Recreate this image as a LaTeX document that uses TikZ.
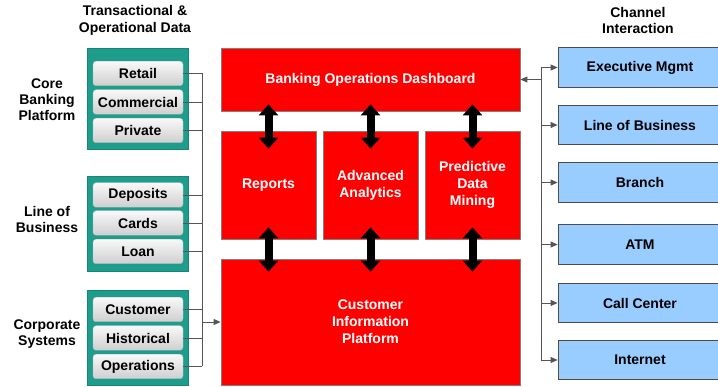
\documentclass[tikz,border=0pt]{standalone}
\usepackage{fontspec}
\setmainfont{Liberation Sans}
\usepackage{xcolor}
\usepackage{tikz}
\usetikzlibrary{calc,arrows.meta}
\definecolor{redbg}{HTML}{FF0000}
\definecolor{tealbg}{HTML}{1E9C8C}
\definecolor{bluebg}{HTML}{99CCFF}
\definecolor{edge}{HTML}{808080}
\definecolor{wire}{HTML}{555555}
\tikzset{
  redbox/.style={draw=edge, fill=redbg, line width=0.8pt, text=white, align=center,
    font=\bfseries\fontsize{14}{17}\selectfont},
  tealbox/.style={draw=tealbg!85!black, fill=tealbg, line width=0.6pt},
  itembox/.style={draw=gray!55, rounded corners=3pt, top color=gray!5, bottom color=gray!38,
    minimum width=90pt, minimum height=24.5pt, inner sep=0pt,
    font=\bfseries\fontsize{14}{17}\selectfont},
  bluebox/.style={draw=black!70, fill=bluebg, line width=0.8pt, minimum width=164pt,
    minimum height=39.5pt, font=\bfseries\fontsize{14}{17}\selectfont},
  bus/.style={draw=wire, line width=0.9pt},
  tip/.style={-{Triangle[length=7pt,width=6pt]}, draw=wire, line width=0.9pt},
  fat/.style={draw=black, line width=8pt,
    {Triangle[length=11pt,width=19pt]}-{Triangle[length=11pt,width=19pt]}},
  lab/.style={align=center, font=\bfseries\fontsize{14}{16}\selectfont},
  hdr/.style={align=center, font=\bfseries\fontsize{14}{17}\selectfont},
}

\begin{document}
\begin{tikzpicture}[x=1pt,y=-1pt]
  \useasboundingbox (0,0) rectangle (718,387);
  % column headers
  \node[hdr] (hdata) at (135,20.5) {Transactional \&\\Operational Data};
  \node[hdr] (hchan) at (638,20.5) {Channel\\Interaction};

  % source groups
  \node[tealbox, minimum width=101pt, minimum height=101pt] (gcore) at (137.5,98.5) {};
  \node[tealbox, minimum width=101pt, minimum height=95pt] (glob) at (137.5,223.5) {};
  \node[tealbox, minimum width=101pt, minimum height=95pt] (gcorp) at (137.5,337.5) {};
  \node[lab] (lcore) at (47,100) {Core\\Banking\\Platform};
  \node[lab] (llob) at (47,219) {Line of\\Business};
  \node[lab] (lcorp) at (47,334) {Corporate\\Systems};

  \node[itembox] (retail) at (138,73.5) {Retail};
  \node[itembox] (comm) at (138,102) {Commercial};
  \node[itembox] (priv) at (138,130.5) {Private};
  \node[itembox] (dep) at (138,195) {Deposits};
  \node[itembox] (cards) at (138,223) {Cards};
  \node[itembox] (loan) at (138,251.5) {Loan};
  \node[itembox] (cust) at (138,309.5) {Customer};
  \node[itembox] (hist) at (138,338) {Historical};
  \node[itembox] (ops) at (138,366.5) {Operations};

  % platform
  \node[redbox, minimum width=299pt, minimum height=63pt] (dash) at (370.5,79.5) {Banking Operations Dashboard};
  \node[redbox, minimum width=95pt, minimum height=108pt] (rep) at (268.5,185) {Reports};
  \node[redbox, minimum width=95pt, minimum height=108pt] (adv) at (370.5,185) {Advanced\\Analytics};
  \node[redbox, minimum width=95pt, minimum height=108pt] (pdm) at (472.5,185) {Predictive\\Data\\Mining};
  \node[redbox, minimum width=299pt, minimum height=126pt] (cip) at (370.5,322) {Customer\\Information\\Platform};

  % channels
  \node[bluebox] (exec) at (640,67.5) {Executive Mgmt};
  \node[bluebox] (lobc) at (640,125) {Line of Business};
  \node[bluebox] (branch) at (640,182.5) {Branch};
  \node[bluebox] (atm) at (640,244.5) {ATM};
  \node[bluebox] (call) at (640,303) {Call Center};
  \node[bluebox] (net) at (640,360) {Internet};

  % left bus
  \coordinate (busL) at (202,0);
  \foreach \n in {retail,comm,priv,dep,cards,loan,cust,hist,ops}
    \draw[bus] (\n.east) -- (\n.east -| busL);
  \draw[bus] (retail.east -| busL) -- (ops.east -| busL);
  \draw[tip] (busL |- cip) -- (cip.west);

  % right bus
  \coordinate (busR) at (541,0);
  \draw[bus] (busR |- exec) -- (busR |- net);
  \draw[tip] (busR |- dash) -- (dash.east);
  \foreach \n in {exec,lobc,branch,atm,call,net}
    \draw[tip] (busR |- \n) -- (\n.west);

  % fat links
  \foreach \n in {rep,adv,pdm} {
    \draw[fat] ($(dash.south -| \n)+(0,-7)$) -- ($(\n.north)+(0,18)$);
    \draw[fat] ($(\n.south)+(0,-12)$) -- ($(cip.north -| \n)+(0,13)$);
  }
\end{tikzpicture}
\end{document}
